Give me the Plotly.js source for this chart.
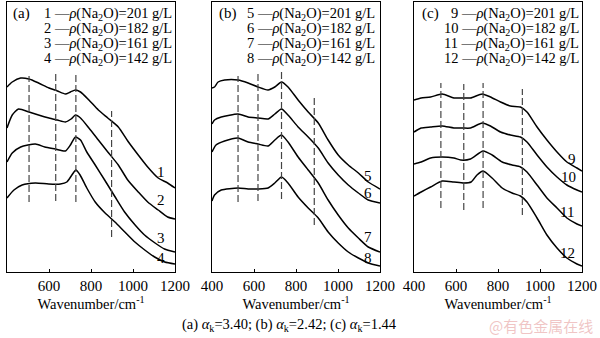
<!DOCTYPE html>
<html><head><meta charset="utf-8">
<script src="https://cdn.plot.ly/plotly-3.0.1.min.js"></script>
<style>html,body{margin:0;padding:0;background:#fff}#chart{width:600px;height:338px}</style>
</head><body><div id="chart"></div>
<script>
// ---- data (wavenumber in cm^-1, intensity in arbitrary units) ----
const wn1 = [400,425,465,505,550,600,640,678,702,726,750,790,835,880,930,975,1025,1070,1120,1165,1200];
const s1  = [185,190,194,193,189,184,181,178,180,182,180,172,162,154,145,131,117,105,94,89,84];
const wn2 = [400,425,455,505,550,600,640,678,705,726,750,790,835,880,930,975,1025,1070,1120,1165,1200];
const s2  = [144,157,163,160,157,154,152,150,153,157,154,144,132,120,107,92,80,70,62,55,53];
const wn3 = [400,425,465,535,580,630,678,702,726,750,780,820,865,915,960,1010,1055,1105,1150,1200];
const s3  = [110,119,125,128,125,123,121,127,135,132,120,107,92,75,60,47,37,29,23,20];
const wn4 = [400,433,472,535,598,654,685,709,728,748,780,820,867,914,961,1009,1056,1103,1151,1200];
const s4  = [74,82,87,89,88,88,90,97,102,97,84,70,59,50,40,30,22,15,10,8];

const wn5 = [400,412,429,460,524,572,619,667,699,731,762,810,858,906,953,1001,1049,1097,1144,1200];
const s5  = [184,185,190,192,192,189,185,182,185,190,185,172,160,149,132,117,107,99,90,83];
const wnB = [400,412,444,524,572,619,667,699,731,762,810,858,906,953,1001,1049,1097,1144,1200];
const s6  = [148,152,155,158,155,154,153,158,163,157,145,135,124,109,97,87,79,72,69];
const wn7 = [400,419,460,524,572,619,667,699,731,762,810,858,906,953,1001,1049,1097,1144,1200];
const s7  = [120,127,131,134,130,128,126,132,137,130,115,102,89,72,57,44,34,25,20];
const s8  = [71,77,82,84,83,83,84,89,95,89,75,64,54,40,29,20,14,9,6];

const wnC = [400,434,479,534,590,630,669,725,764,812,859,907,938,986,1033,1081,1128,1176,1200];
const s9  = [172,174,175,178,174,174,174,178,175,170,166,165,160,145,132,120,110,104,101];
const s10 = [140,144,145,146,144,144,144,149,146,140,137,135,130,117,105,95,87,82,80];
const wn11 = [400,434,479,534,590,622,669,729,772,820,867,907,938,986,1033,1081,1128,1176,1200];
const s11 = [108,110,114,115,114,112,113,121,117,110,107,105,100,87,74,64,54,48,46];
const wn12 = [400,434,479,534,590,637,672,700,729,772,820,867,907,938,986,1033,1081,1128,1176,1200];
const s12 = [76,80,85,91,90,89,90,97,101,94,84,79,76,70,54,37,24,14,8,6];

// dashed reference lines: position, lower end, upper end
const dashA = [505,632,728,898], dashALo = [70,71,70,35], dashAHi = [196,198,197,161];
const dashB = [524,619,731,887], dashBLo = [70,71,73,47], dashBHi = [196,198,200,174];
const dashC = [528,637,729,916], dashCLo = [64,62,64,57], dashCHi = [189,188,189,183];

// curve labels
const labA = ['1','2','3','4'], labAx = [1135,1135,1132,1132], labAy = [100,72,34,14];
const labB = ['5','6','7','8'], labBx = [1144,1144,1144,1144], labBy = [96,79,35,14];
const labC = ['9','10','11','12'], labCx = [1152,1138,1129,1129], labCy = [113,95,60,19];

const conc = ['201','182','161','142'];
const xTicks = [400,600,800,1000,1200];
const alphaK = ['3.40','2.42','1.44'];

// ---- build ----
const F = '"Liberation Serif", "Times New Roman", serif';
const traces = [];
function curve(x, y, ax){
  traces.push({x:x, y:y, xaxis:'x'+ax, yaxis:'y'+ax, mode:'lines', type:'scatter',
    line:{color:'#000', width:1.5, shape:'spline', smoothing:0.6}, hoverinfo:'skip', showlegend:false});
}
function dashes(pos, lo, hi, ax){
  pos.forEach((p,i)=>traces.push({x:[p,p], y:[lo[i],hi[i]], xaxis:'x'+ax, yaxis:'y'+ax, mode:'lines', type:'scatter',
    line:{color:'#444', width:1.2, dash:'7px,3px'}, hoverinfo:'skip', showlegend:false}));
}
curve(wn1,s1,''); curve(wn2,s2,''); curve(wn3,s3,''); curve(wn4,s4,'');
curve(wn5,s5,'2'); curve(wnB,s6,'2'); curve(wn7,s7,'2'); curve(wnB,s8,'2');
curve(wnC,s9,'3'); curve(wnC,s10,'3'); curve(wn11,s11,'3'); curve(wn12,s12,'3');
dashes(dashA,dashALo,dashAHi,''); dashes(dashB,dashBLo,dashBHi,'2'); dashes(dashC,dashCLo,dashCHi,'3');

const yDom = [66/338, 336.5/338];
function xax(d){
  return {domain:d, range:[400,1200], tickvals:xTicks, ticktext:xTicks.map(String), ticks:'inside', ticklen:3,
    tickcolor:'#000', showline:true, mirror:true, linecolor:'#000', linewidth:1, showgrid:false, zeroline:false,
    tickfont:{family:F, size:15, color:'#000'},
    title:{text:'Wavenumber/cm<sup>-1</sup>', font:{family:F, size:14.5, color:'#000'}, standoff:4}};
}
function yax(anchor){
  return {domain:yDom, range:[0,270.5], showticklabels:false, ticks:'', showline:true, mirror:true,
    linecolor:'#000', linewidth:1, showgrid:false, zeroline:false, anchor:anchor};
}
const ann = [];
function px(x){return x/600;} function py(y){return 1-y/338;}
const panels = [
  {tag:'(a)', tagx:11, right:173.5, nums:labA, lx:labAx, ly:labAy, ax:''},
  {tag:'(b)', tagx:216.5, right:377, nums:labB, lx:labBx, ly:labBy, ax:'2'},
  {tag:'(c)', tagx:420, right:580.5, nums:labC, lx:labCx, ly:labCy, ax:'3'}
];
const legY = [14,29,44,59];
panels.forEach(p=>{
  ann.push({xref:'paper', yref:'paper', x:px(p.tagx), y:py(14), xanchor:'left', yanchor:'middle', showarrow:false,
    text:p.tag, font:{family:F, size:15, color:'#000'}});
  p.nums.forEach((n,i)=>{
    ann.push({xref:'paper', yref:'paper', x:px(p.right), y:py(legY[i]), xanchor:'right', yanchor:'middle', showarrow:false,
      text:n+' —<i>ρ</i>(Na<sub>2</sub>O)='+conc[i]+' g/L', font:{family:F, size:14.5, color:'#000'}});
    ann.push({xref:'x'+p.ax, yref:'y'+p.ax, x:p.lx[i], y:p.ly[i], xanchor:'center', yanchor:'middle', showarrow:false,
      text:n, font:{family:F, size:15, color:'#000'}});
  });
});
ann.push({xref:'paper', yref:'paper', x:px(289), y:py(325), xanchor:'center', yanchor:'middle', showarrow:false,
  text:'(a) <i>α</i><sub>k</sub>='+alphaK[0]+'; (b) <i>α</i><sub>k</sub>='+alphaK[1]+'; (c) <i>α</i><sub>k</sub>='+alphaK[2],
  font:{family:F, size:14.5, color:'#000'}});
ann.push({xref:'paper', yref:'paper', x:px(595), y:py(325), xanchor:'right', yanchor:'middle', showarrow:false,
  text:'@有色金属在线', font:{family:'"Noto Sans CJK SC"', size:15, color:'rgba(225,140,140,0.5)'}});

const layout = {
  width:600, height:338, margin:{l:0,r:0,t:0,b:0}, paper_bgcolor:'#fff', plot_bgcolor:'#fff', showlegend:false,
  xaxis:xax([7/600,175/600]), xaxis2:xax([212/600,380/600]), xaxis3:xax([414/600,582/600]),
  yaxis:yax('x'), yaxis2:yax('x2'), yaxis3:yax('x3'),
  annotations:ann
};
layout.xaxis.anchor='y'; layout.xaxis2.anchor='y2'; layout.xaxis3.anchor='y3';
Plotly.newPlot('chart', traces, layout, {staticPlot:true, displayModeBar:false});
</script></body></html>
